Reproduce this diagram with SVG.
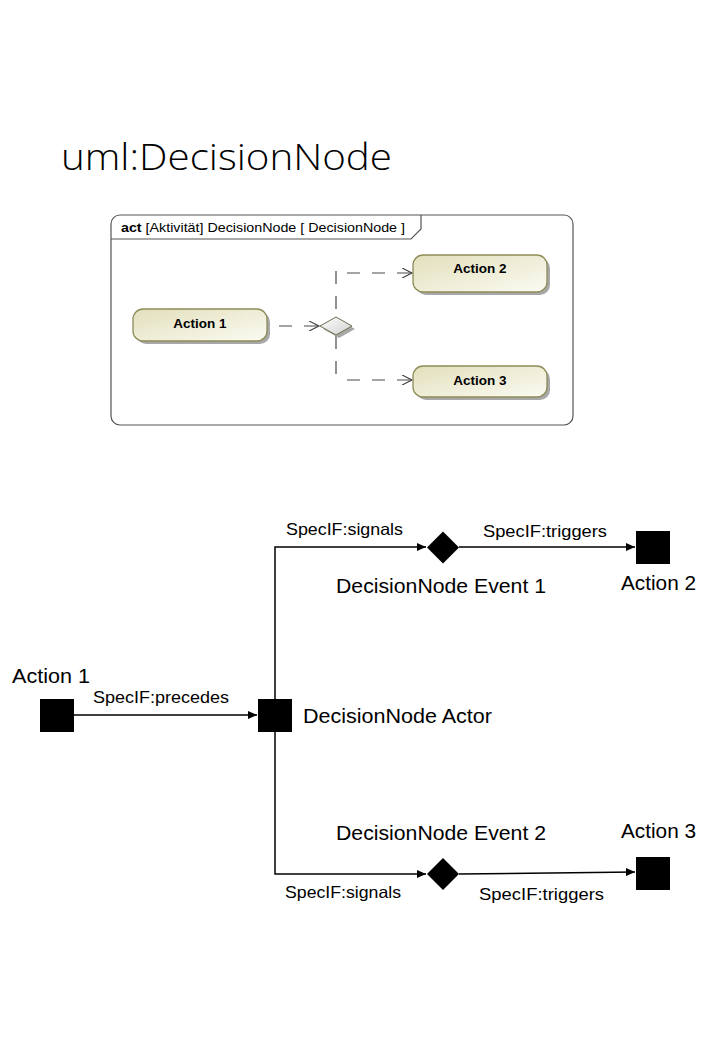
<svg xmlns="http://www.w3.org/2000/svg" width="720" height="1047" viewBox="0 0 720 1047">
<style>
.title{font-family:"Open Sans","Liberation Sans",sans-serif;font-weight:300;font-size:36px;fill:#000}
.uml{font-family:"Liberation Sans",Arial,sans-serif;font-size:13px;fill:#000}
.act{font-family:"Liberation Sans",Arial,sans-serif;font-size:13.5px;font-weight:bold;fill:#000}
.lbl{font-family:"Liberation Sans",Arial,sans-serif;font-size:16.5px;fill:#000}
.big{font-family:"Liberation Sans",Arial,sans-serif;font-size:20px;fill:#000}
.abox{fill:url(#ag);stroke:#8e8c58;stroke-width:1.3}
.shadow{fill:#a8a8a8}
.dash{fill:none;stroke:#4a4a4a;stroke-width:1.2;stroke-dasharray:13,12}
.edge{fill:none;stroke:#000;stroke-width:1.5}
.sq{fill:#000}
</style>
<defs>
<linearGradient id="ag" x1="0" y1="0" x2="1" y2="1">
<stop offset="0" stop-color="#e2dfbb"/>
<stop offset="1" stop-color="#fbfbf3"/>
</linearGradient>
<linearGradient id="dg" x1="0" y1="0" x2="1" y2="1">
<stop offset="0" stop-color="#ffffff"/>
<stop offset="1" stop-color="#cfcfcf"/>
</linearGradient>
<marker id="open" markerWidth="12" markerHeight="10" refX="10" refY="5" orient="auto" markerUnits="userSpaceOnUse">
<path d="M0,0 L10,5 L0,10" fill="none" stroke="#333" stroke-width="1.1"/>
</marker>
<marker id="fill" markerWidth="10" markerHeight="8" refX="9" refY="4" orient="auto" markerUnits="userSpaceOnUse">
<path d="M0,0 L9,4 L0,8 Z" fill="#000"/>
</marker>
</defs>
<rect width="720" height="1047" fill="#fff"/>
<text class="title" x="61" y="170" textLength="331" lengthAdjust="spacingAndGlyphs">uml:DecisionNode</text>

<g id="frame">
<rect x="111" y="215" width="462" height="210" rx="9" fill="#fff" stroke="#555" stroke-width="1.2"/>
<path d="M111,239 L411,239 L421,229 L421,215" fill="none" stroke="#555" stroke-width="1.2"/>
<text class="uml" x="121" y="232" textLength="284" lengthAdjust="spacingAndGlyphs"><tspan font-weight="bold">act</tspan> [Aktivität] DecisionNode [ DecisionNode ]</text>
</g>

<g id="uml-connectors">
<path class="dash" d="M279,326 L319,326" marker-end="url(#open)"/>
<path class="dash" d="M336,271 L336,316"/>
<path class="dash" d="M336,336 L336,380"/>
<path class="dash" d="M347,273 L412,273" marker-end="url(#open)"/>
<path class="dash" d="M347,380 L412,380" marker-end="url(#open)"/>
</g>

<g id="uml-action1">
<rect class="shadow" x="136" y="312" width="134" height="32" rx="10"/>
<rect class="abox" x="133" y="309" width="134" height="32" rx="10"/>
<text class="act" x="200" y="328" text-anchor="middle">Action 1</text>
</g>
<g id="uml-action2">
<rect class="shadow" x="416" y="258" width="134" height="37" rx="10"/>
<rect class="abox" x="413" y="255" width="134" height="37" rx="10"/>
<text class="act" x="480" y="273" text-anchor="middle">Action 2</text>
</g>
<g id="uml-action3">
<rect class="shadow" x="416" y="369" width="134" height="31" rx="10"/>
<rect class="abox" x="413" y="366" width="134" height="31" rx="10"/>
<text class="act" x="480" y="385" text-anchor="middle">Action 3</text>
</g>
<g id="uml-decision">
<path d="M323,329 L339,320 L355,329 L339,338 Z" fill="#a8a8a8"/>
<path d="M320,326 L336,317 L352,326 L336,335 Z" fill="url(#dg)" stroke="#6e6e50" stroke-width="1"/>
</g>

<g id="connectors">
<path class="edge" d="M73,715 L257,715" marker-end="url(#fill)"/>
<path class="edge" d="M275,699 L275,547 L426,547" marker-end="url(#fill)"/>
<path class="edge" d="M275,732 L275,874 L426,874" marker-end="url(#fill)"/>
<path class="edge" d="M459,547 L635,547" marker-end="url(#fill)"/>
<path class="edge" d="M459,874 L635,872" marker-end="url(#fill)"/>
<text class="lbl" x="93" y="703" textLength="136" lengthAdjust="spacingAndGlyphs">SpecIF:precedes</text>
<text class="lbl" x="286" y="535" textLength="117" lengthAdjust="spacingAndGlyphs">SpecIF:signals</text>
<text class="lbl" x="483" y="537" textLength="124" lengthAdjust="spacingAndGlyphs">SpecIF:triggers</text>
<text class="lbl" x="285" y="898" textLength="116" lengthAdjust="spacingAndGlyphs">SpecIF:signals</text>
<text class="lbl" x="479" y="900" textLength="125" lengthAdjust="spacingAndGlyphs">SpecIF:triggers</text>
</g>

<g id="action1">
<rect class="sq" x="40" y="699" width="34" height="33"/>
<text class="big" x="12" y="683" textLength="78" lengthAdjust="spacingAndGlyphs">Action 1</text>
</g>
<g id="actor">
<rect class="sq" x="258" y="699" width="34" height="33"/>
<text class="big" x="303" y="723" textLength="189" lengthAdjust="spacingAndGlyphs">DecisionNode Actor</text>
</g>
<g id="event1">
<path class="sq" d="M427,547.5 L443,531.5 L459,547.5 L443,563.5 Z"/>
<text class="big" x="336" y="593" textLength="210" lengthAdjust="spacingAndGlyphs">DecisionNode Event 1</text>
</g>
<g id="event2">
<path class="sq" d="M427,874 L443,858 L459,874 L443,890 Z"/>
<text class="big" x="336" y="840" textLength="210" lengthAdjust="spacingAndGlyphs">DecisionNode Event 2</text>
</g>
<g id="action2">
<rect class="sq" x="636" y="531" width="34" height="33"/>
<text class="big" x="621" y="590" textLength="75" lengthAdjust="spacingAndGlyphs">Action 2</text>
</g>
<g id="action3">
<rect class="sq" x="636" y="857" width="34" height="33"/>
<text class="big" x="621" y="838" textLength="75" lengthAdjust="spacingAndGlyphs">Action 3</text>
</g>
</svg>
